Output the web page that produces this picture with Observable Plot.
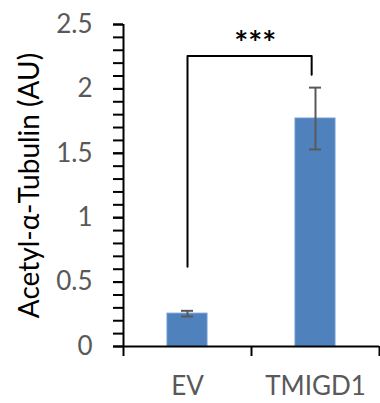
<!DOCTYPE html>
<html>
<head>
<meta charset="utf-8">
<script src="https://cdn.jsdelivr.net/npm/d3@7"></script>
<script src="https://cdn.jsdelivr.net/npm/@observablehq/plot@0.6"></script>
<style>
  html, body { margin: 0; padding: 0; background: #fff; }
</style>
</head>
<body>
<div id="chart"></div>
<script>
const categories = ["EV", "TMIGD1"];
const means = [0.255, 1.77];
const errors = [0.022, 0.24];
const yTickValues = [0, 0.5, 1, 1.5, 2, 2.5];
const yTickLabels = ["0", "0.5", "1", "1.5", "2", "2.5"];
const yMinorTicks = d3.range(0, 26).map(i => i / 10);
const bracketX = [0.5, 0.5, 1.47, 1.47];
const bracketY = [0.62, 2.255, 2.255, 2.11];
const sigLabel = "***";
const sigX = 1.03;
const sigY = 2.255;
const yTitle = "Acetyl-α-Tubulin (AU)";

const rows = categories.map((c, i) => ({c, i, mean: means[i], err: errors[i]}));
const bracket = bracketX.map((x, k) => ({x, y: bracketY[k]}));

const chart = Plot.plot({
  width: 380,
  height: 403,
  marginLeft: 123,
  marginRight: 1,
  marginTop: 24,
  marginBottom: 57,
  style: {fontFamily: "Lato, sans-serif", background: "#fff"},
  x: {domain: [0, 2]},
  y: {domain: [0, 2.5]},
  marks: [
    Plot.rectY(rows, {x1: d => d.i, x2: d => d.i + 1, y: "mean", fill: "#4f81bd", stroke: "#6d98cf", strokeWidth: 1, insetLeft: 44, insetRight: 44}),
    Plot.ruleX(rows, {x: d => d.i + 0.5, y1: d => d.mean - d.err, y2: d => d.mean + d.err, stroke: "#595959", strokeWidth: 2}),
    Plot.ruleY(rows, {x1: d => d.i, x2: d => d.i + 1, y: d => d.mean + d.err, insetLeft: 58, insetRight: 58, stroke: "#595959", strokeWidth: 2}),
    Plot.ruleY(rows, {x1: d => d.i, x2: d => d.i + 1, y: d => d.mean - d.err, insetLeft: 58, insetRight: 58, stroke: "#595959", strokeWidth: 2}),
    Plot.line(bracket, {x: "x", y: "y", stroke: "#000", strokeWidth: 2}),
    Plot.text([sigLabel], {x: sigX, y: sigY, text: d => d, dy: -1, lineAnchor: "bottom", fontSize: 33, fontWeight: "bold", fill: "#000"}),
    Plot.ruleX([0], {y1: 0, y2: 2.5, stroke: "#000", strokeWidth: 2}),
    Plot.ruleY([0], {x1: 0, x2: 2, stroke: "#000", strokeWidth: 2}),
    Plot.axisY(yMinorTicks, {tickSize: 10, tickFormat: () => "", strokeWidth: 2, stroke: "#000", label: null}),
    Plot.axisY(yTickValues, {tickSize: 10, tickPadding: 21, strokeWidth: 2, stroke: "#000", fill: "#595959", fontSize: 26, tickFormat: d => yTickLabels[yTickValues.indexOf(d)], label: null}),
    Plot.axisX([0, 1, 2], {tickSize: 10, tickFormat: () => "", strokeWidth: 2, stroke: "#000", label: null}),
    Plot.axisX([0.5, 1.5], {tickSize: 0, tickPadding: 30, fill: "#595959", fontSize: 26, tickFormat: d => categories[Math.floor(d)], label: null}),
    Plot.text([yTitle], {frameAnchor: "left", textAnchor: "middle", rotate: -90, dx: -93, text: d => d, fontSize: 28, fill: "#000"})
  ]
});
document.getElementById("chart").appendChild(chart);
</script>
</body>
</html>
